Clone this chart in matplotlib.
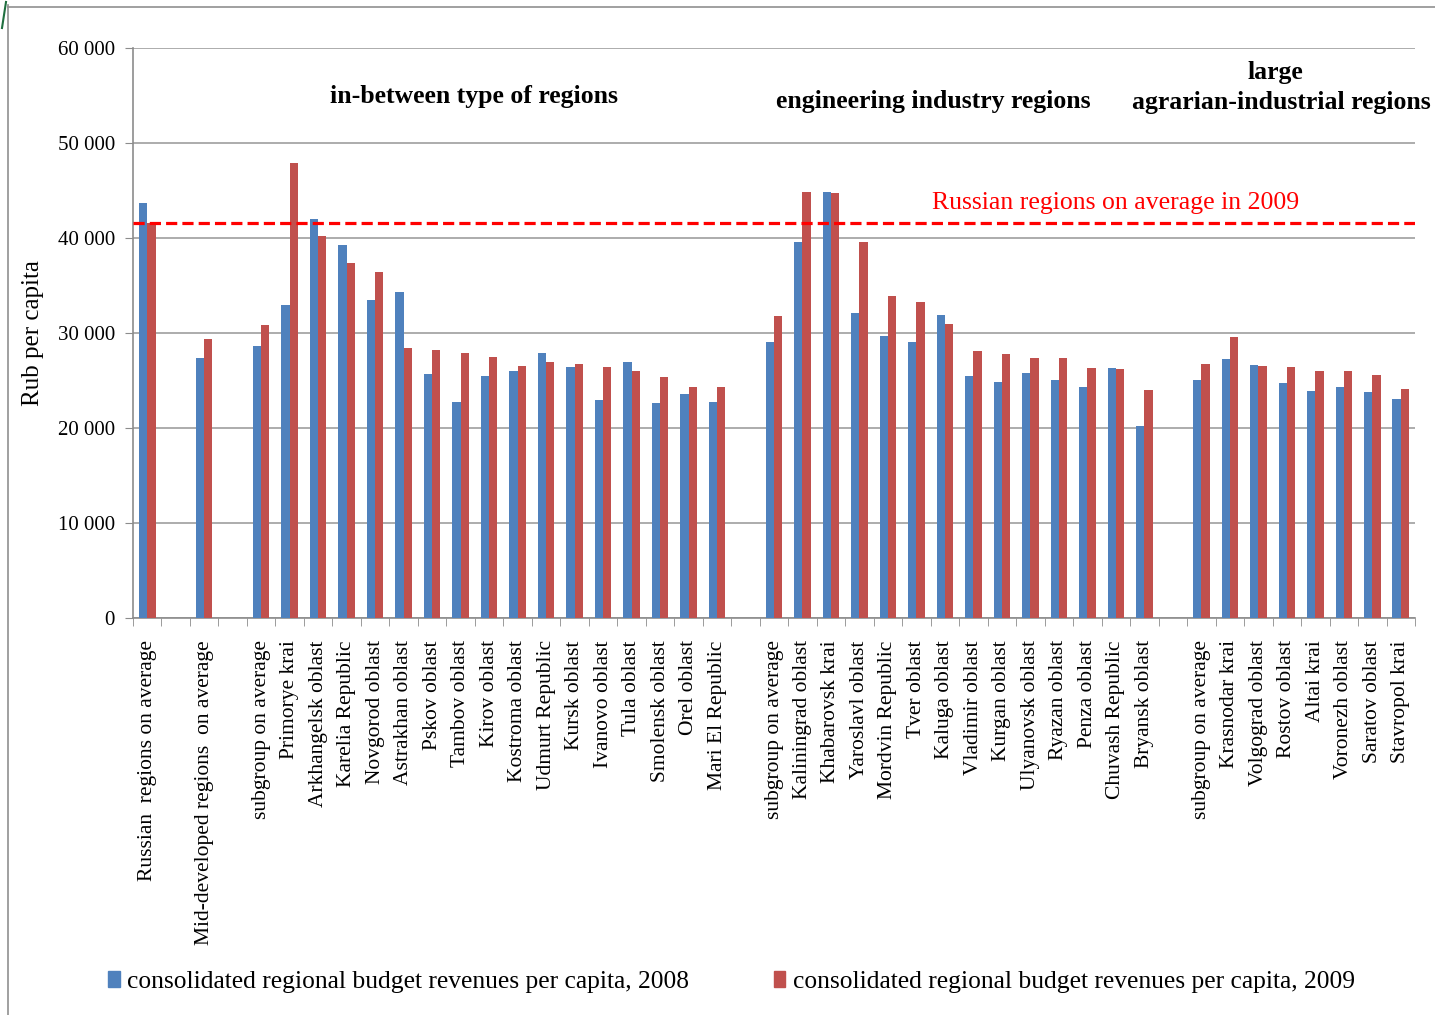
import numpy as np
import matplotlib.pyplot as plt
from matplotlib.lines import Line2D
from matplotlib.patches import Patch

plt.rcParams['font.family'] = ['Liberation Serif', 'DejaVu Serif']

# empty strings / nan mark the blank slots between groups
regions = [
    "Russian  regions on average", "",
    "Mid-developed regions  on average", "",
    "subgroup on average", "Primorye krai", "Arkhangelsk oblast", "Karelia Republic",
    "Novgorod oblast", "Astrakhan oblast", "Pskov oblast", "Tambov oblast",
    "Kirov oblast", "Kostroma oblast", "Udmurt Republic", "Kursk oblast",
    "Ivanovo oblast", "Tula oblast", "Smolensk oblast", "Orel oblast",
    "Mari El Republic", "",
    "subgroup on average", "Kaliningrad oblast", "Khabarovsk krai", "Yaroslavl oblast",
    "Mordvin Republic", "Tver oblast", "Kaluga oblast", "Vladimir oblast",
    "Kurgan oblast", "Ulyanovsk oblast", "Ryazan oblast", "Penza oblast",
    "Chuvash Republic", "Bryansk oblast", "",
    "subgroup on average", "Krasnodar krai", "Volgograd oblast", "Rostov oblast",
    "Altai krai", "Voronezh oblast", "Saratov oblast", "Stavropol krai",
]
nan = np.nan
rev_2008 = [
    43650, nan,
    27330, nan,
    28630, 32950, 41960, 39230, 33470, 34350, 25720, 22700, 25510, 26040,
    27860, 26390, 22910, 26910, 22600, 23580, 22700, nan,
    29090, 39610, 44810, 32070, 29680, 29090, 31860, 25510, 24840, 25830,
    25090, 24320, 26350, 20250, nan,
    25050, 27230, 26600, 24740, 23890, 24320, 23790, 23020,
]
rev_2009 = [
    41610, nan,
    29370, nan,
    30810, 47860, 40180, 37370, 36420, 28420, 28210, 27860, 27440, 26490,
    26910, 26700, 26390, 25960, 25330, 24350, 24350, nan,
    31790, 44810, 44700, 39610, 33930, 33260, 30910, 28100, 27750, 27330,
    27330, 26350, 26250, 24000, nan,
    26700, 29610, 26490, 26390, 26040, 26040, 25610, 24110,
]
avg_2009 = 41600
yticks = [0, 10000, 20000, 30000, 40000, 50000, 60000]

blue = '#4F81BD'
red = '#C0504D'
grey = '#8c8c8c'

x = np.arange(len(regions))
fig = plt.figure(figsize=(14.35, 10.15), dpi=100)
ax = fig.add_axes([133 / 1435, 1 - 618 / 1015, 1282 / 1435, 570 / 1015])

w = 0.29
ax.bar(x - w / 2, rev_2008, w, color=blue, zorder=3)
ax.bar(x + w / 2, rev_2009, w, color=red, zorder=3)
ax.axhline(avg_2009, color='#ff0000', ls=(0, (3.5, 1.6)), lw=2.3, zorder=4)

ax.set_xlim(-0.5, len(regions) - 0.5)
ax.set_ylim(0, 60000)
ax.set_yticks(yticks)
ax.set_yticklabels([f"{v:,}".replace(',', ' ') for v in yticks], fontsize=15)
ax.yaxis.grid(True, color='#a6a6a6', lw=1.3, zorder=0)

keep = [i for i, r in enumerate(regions) if r]
ax.set_xticks(keep)
ax.set_xticklabels([regions[i] for i in keep], rotation=90, fontsize=15.5)
ax.set_xticks(np.arange(-0.5, len(regions)), minor=True)
ax.tick_params(axis='x', which='major', length=0, pad=16)
ax.tick_params(axis='x', which='minor', length=6, color=grey, direction='out')
ax.tick_params(axis='y', length=6, color=grey, pad=7)

for s in ['top', 'right']:
    ax.spines[s].set_visible(False)
for s in ['left', 'bottom']:
    ax.spines[s].set_color(grey)
    ax.spines[s].set_linewidth(1.2)

ax.set_ylabel("Rub per capita", fontsize=18, labelpad=10)

ax.text(11.46, 54900, "in-between type of regions", ha='center', va='center',
        fontsize=18.5, fontweight='bold')
ax.text(27.6, 54350, "engineering industry regions", ha='center', va='center',
        fontsize=18.5, fontweight='bold')
ax.text(39.6, 57400, "large", ha='center', va='center',
        fontsize=18.5, fontweight='bold', clip_on=False)
ax.text(39.8, 54250, "agrarian-industrial regions", ha='center', va='center',
        fontsize=18.5, fontweight='bold', clip_on=False)
ax.text(34.0, 43700, "Russian regions on average in 2009", ha='center', va='center',
        fontsize=18.5, color='#ff0000')

fig.legend(handles=[Patch(color=blue, label="consolidated regional budget revenues per capita, 2008"),
                    Patch(color=red, label="consolidated regional budget revenues per capita, 2009")],
           loc='center left', bbox_to_anchor=(108 / 1435, 1 - 982 / 1015), ncol=2,
           frameon=False, borderpad=0, borderaxespad=0, handlelength=0.45,
           handleheight=0.6, handletextpad=0.3, columnspacing=3.3, fontsize=18.4)

# slide frame
fig.add_artist(Line2D([8 / 1435, 8 / 1435], [0, 1 - 5 / 1015], color='#909090', lw=1.2))
fig.add_artist(Line2D([8 / 1435, 1], [1 - 7 / 1015, 1 - 7 / 1015], color='#909090', lw=1.2))
fig.add_artist(Line2D([2 / 1435, 6 / 1435], [1 - 28 / 1015, 1 - 2 / 1015], color='#1f6f3f', lw=1.5))

fig.savefig("out.png", dpi=100)
